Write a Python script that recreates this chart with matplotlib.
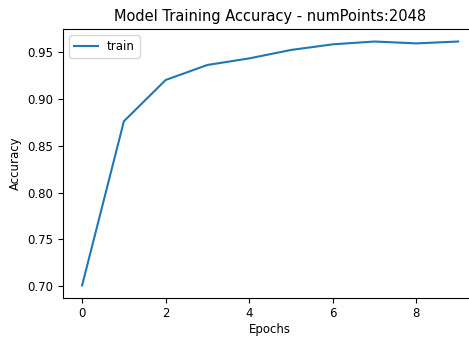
import matplotlib
import matplotlib.pyplot as plt

matplotlib.use("Agg")

epochs = [0, 1, 2, 3, 4, 5, 6, 7, 8, 9]
train_acc = [0.701, 0.876, 0.920, 0.936, 0.943, 0.952, 0.958, 0.961, 0.959, 0.961]

fig = plt.figure(figsize=(4.69, 3.37), dpi=100)
# right side of the original axes is cut off by the image edge
ax = fig.add_axes([0.135, 0.117, 0.882, 0.796])
ax.plot(epochs, train_acc, color="#1f77b4", linewidth=1.5, label="train")
ax.set_title("Model Training Accuracy - numPoints:2048", fontsize=10.5)
ax.set_xlabel("Epochs", fontsize=8.5, labelpad=2)
ax.set_ylabel("Accuracy", fontsize=8.5)
ax.tick_params(labelsize=8.5)
ax.legend(loc="upper left", fontsize=8.5)

fig.savefig("out.png", dpi=100)
plt.close(fig)
